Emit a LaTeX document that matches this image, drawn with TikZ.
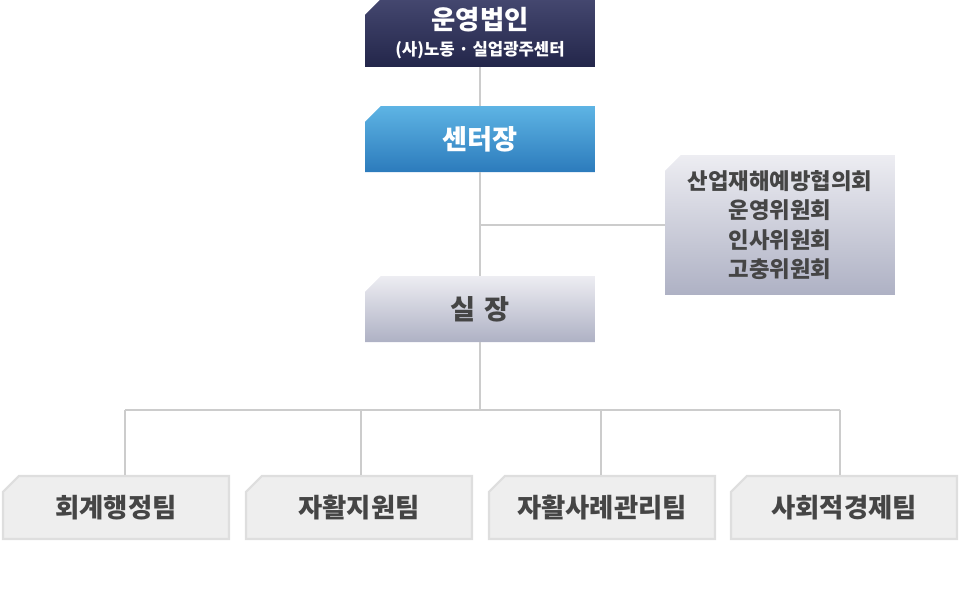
\documentclass[tikz,border=0pt]{standalone}
\usepackage{fontspec}
\newfontfamily\kr{Noto Sans CJK KR}
\usetikzlibrary{positioning, calc, shapes.misc}
\definecolor{navytop}{HTML}{44476F}
\definecolor{navybot}{HTML}{23264A}
\definecolor{bluetop}{HTML}{5EB4E4}
\definecolor{bluebot}{HTML}{2C7BBC}
\definecolor{greytop}{HTML}{EDEDF2}
\definecolor{greybot}{HTML}{AEB1C4}
\definecolor{teamfill}{HTML}{EEEEEE}
\definecolor{teamline}{HTML}{DEDEDE}
\definecolor{inkgrey}{HTML}{454545}
\definecolor{connline}{HTML}{CCCCCC}
\tikzset{
  font=\kr\bfseries,
  orgbox/.style={
    chamfered rectangle, chamfered rectangle corners=north west,
    chamfered rectangle xsep=4.5pt, chamfered rectangle ysep=4.5pt,
    draw=none, inner sep=0pt, align=center,
    minimum width=4.6cm, minimum height=1.32cm
  },
  navybox/.style={orgbox, top color=navytop, bottom color=navybot, text=white},
  bluebox/.style={orgbox, top color=bluetop, bottom color=bluebot, text=white,
    font=\kr\bfseries\fontsize{15.5}{17}\selectfont},
  greybox/.style={orgbox, top color=greytop, bottom color=greybot, text=inkgrey},
  teambox/.style={orgbox, fill=teamfill, draw=teamline, line width=1.2pt,
    text=inkgrey, minimum width=4.52cm, minimum height=1.26cm,
    font=\kr\bfseries\fontsize{15}{17}\selectfont},
  conn/.style={draw=connline, line width=1.1pt}
}
\begin{document}
\begin{tikzpicture}[x=0.02cm, y=-0.02cm]
  \useasboundingbox (0,0) rectangle (960,600);
  % boxes
  \node[navybox] (op) at (480,33)
    {{\fontsize{15}{16}\selectfont 운영법인}\\[3pt]{\fontsize{9.5}{11}\selectfont (사)노동 · 실업광주센터}};
  \node[bluebox] (dir) at (480,139) {센터장};
  \node[greybox, minimum height=2.8cm, font=\kr\bfseries\fontsize{12.7}{16.7}\selectfont] (comm) at (780,225)
    {산업재해예방협의회\\운영위원회\\인사위원회\\고충위원회};
  \node[greybox, font=\kr\bfseries\fontsize{15.5}{17}\selectfont] (chief) at (480,309) {실\hspace{0.3em}장};
  \node[teambox] (team1) at (116,507.5) {회계행정팀};
  \node[teambox] (team2) at (359,507.5) {자활지원팀};
  \node[teambox] (team3) at (602,507.5) {자활사례관리팀};
  \node[teambox] (team4) at (844,507.5) {사회적경제팀};
  % connectors
  \coordinate (bar) at (480,410);
  \coordinate (d1) at (125,410);
  \coordinate (d2) at (361,410);
  \coordinate (d3) at (601,410);
  \coordinate (d4) at (840,410);
  \draw[conn] (op.south) -- (dir.north);
  \draw[conn] (dir.south) -- (chief.north);
  \draw[conn] (dir.south |- comm.west) -- (comm.west);
  \draw[conn] (chief.south) -- (bar);
  \draw[conn] (d1) -- (d4);
  \foreach \i in {1,...,4}
    \draw[conn] (d\i) -- (d\i |- team\i.north);
\end{tikzpicture}
\end{document}
